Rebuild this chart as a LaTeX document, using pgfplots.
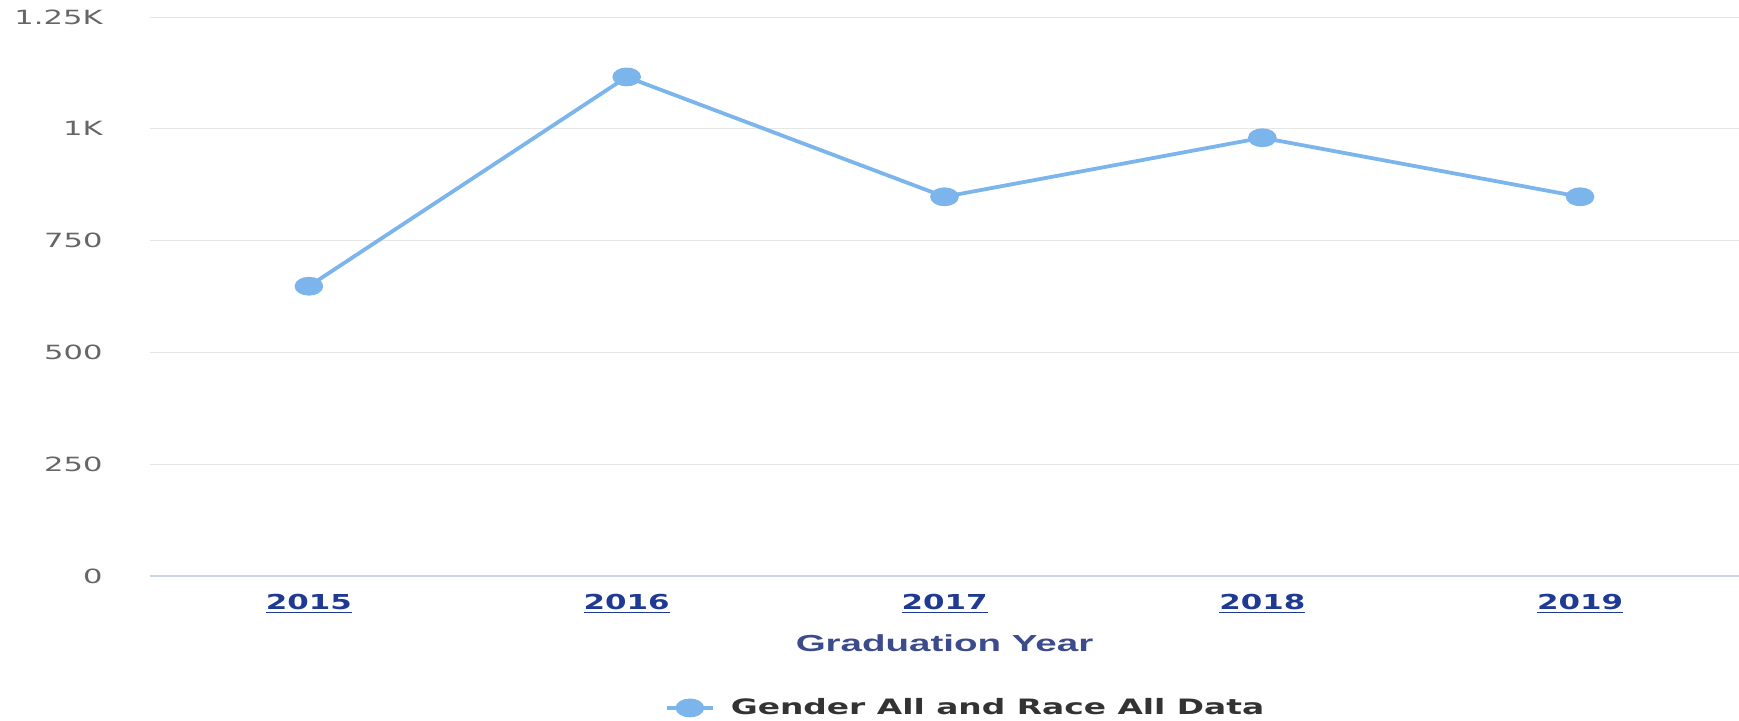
\documentclass[border=0pt]{standalone}
\usepackage{fontspec}
\usepackage{pgfplots}
\pgfplotsset{compat=1.18}
\setmainfont{DejaVu Sans}
\newfontfamily\yfont{DejaVu Sans}[FakeStretch=1.56]
\newfontfamily\xfont{DejaVu Sans}[FakeStretch=1.5]
\newfontfamily\ttlfont{Liberation Sans}[FakeStretch=1.66]
\newfontfamily\legfont{DejaVu Sans}[FakeStretch=1.55]
\definecolor{hc}{HTML}{7CB5EC}
\definecolor{gridc}{HTML}{E6E6E6}
\definecolor{axc}{HTML}{CCD6EB}
\definecolor{xlab}{HTML}{1F3A93}
\definecolor{ttl}{HTML}{3B4B8C}
\definecolor{leg}{HTML}{333333}
\definecolor{ylab}{HTML}{666666}
\newsavebox\ulb
\newcommand\ulbox[1]{\sbox\ulb{#1}\rlap{\rule[-2pt]{\wd\ulb}{0.8pt}}\usebox\ulb}
\begin{document}
\begin{tikzpicture}
\begin{axis}[name=ax,
  scale only axis, width=794.5pt, height=279.5pt,
  xmin=-0.5, xmax=4.5, ymin=0, ymax=1250,
  xtick={0,1,2,3,4},
  xticklabels={\ulbox{2015},\ulbox{2016},\ulbox{2017},\ulbox{2018},\ulbox{2019}},
  ytick={0,250,500,750,1000,1250},
  yticklabels={0,250,500,750,1K,1.25K},
  axis line style={draw=none},
  major tick length=0pt, tick style={draw=none},
  ymajorgrids, grid style={gridc, line width=0.5pt},
  extra y ticks={0}, extra y tick labels={},
  extra y tick style={major grid style={axc, line width=0.6pt}},
  yticklabel style={anchor=east, inner sep=0pt, xshift=-23.5pt, font=\yfont\fontsize{9.8pt}{11pt}\selectfont, text=ylab},
  xticklabel style={anchor=base, inner sep=0pt, yshift=-16.65pt, font=\xfont\bfseries\fontsize{10.3pt}{12pt}\selectfont, text=xlab},
  xlabel={Graduation Year},
  xlabel style={at={(axis description cs:0.5,0)}, anchor=base, yshift=-37.5pt, inner sep=0pt, font=\ttlfont\bfseries\fontsize{11.6pt}{13pt}\selectfont, text=ttl},
  legend style={at={(axis description cs:0.3241,-0.236)}, anchor=west, draw=none, fill=none, inner sep=0pt, outer sep=0pt, font=\legfont\bfseries\fontsize{10.6pt}{12pt}\selectfont, text=leg, nodes={inner sep=0pt}, column sep=8pt},
  legend image code/.code={\draw[mark repeat=2,mark phase=2] plot coordinates {(0pt,0pt) (11.5pt,0pt) (23pt,0pt)};},
  clip=false,
]
\addplot[hc, line width=1.9pt, mark=*, mark size=3.75pt, mark options={xscale=1.65, solid, fill=hc, draw=none}]
  coordinates {(0,648) (1,1116) (2,848) (3,980) (4,848)};
\addlegendentry{Gender All and Race All Data}
\end{axis}
\pgfresetboundingbox
\path (ax.south west) ++(-75pt,-72pt) rectangle ++(869.5pt,360pt);
\end{tikzpicture}
\end{document}
